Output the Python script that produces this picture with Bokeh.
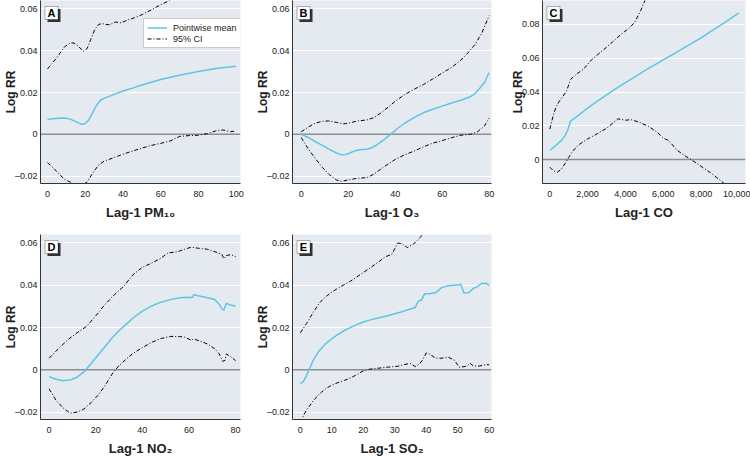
from bokeh.plotting import figure
from bokeh.layouts import column, row
from bokeh.models import Range1d, FixedTicker, Span, Label, BoxAnnotation
from bokeh.embed import file_html
from bokeh.resources import INLINE

# ---------------- data ----------------
# Panel A : Lag-1 PM10
A_mean_x = [0, 3, 6, 9, 12, 15, 18, 20, 22, 24, 26, 28, 30, 35, 40, 45, 50, 60, 70, 80, 90, 100]
A_mean = [0.0071, 0.0075, 0.0077, 0.0078, 0.0073, 0.0061, 0.0048, 0.0052, 0.0070, 0.0105, 0.0138, 0.0162, 0.0172, 0.0190, 0.0207, 0.0221, 0.0236, 0.0262, 0.0283, 0.0301, 0.0316, 0.0326]
A_up_x = [0, 3, 6, 9, 12, 14, 16, 19, 21, 23, 25, 27, 29, 31, 33, 36, 39, 42, 46, 50, 55, 60, 64, 68]
A_up = [0.0313, 0.0345, 0.0380, 0.0418, 0.0437, 0.0437, 0.0425, 0.0397, 0.0410, 0.0455, 0.0500, 0.0525, 0.0530, 0.0525, 0.0524, 0.0537, 0.0533, 0.0545, 0.0557, 0.0572, 0.0595, 0.0620, 0.0637, 0.0655]
A_lo_x = [0, 3, 6, 9, 12, 15, 18, 21, 24, 27, 30, 35, 40, 45, 50, 55, 60, 65, 70, 75, 80, 85, 89, 93, 97, 100]
A_lo = [-0.0135, -0.0160, -0.0188, -0.0215, -0.0228, -0.0240, -0.0245, -0.0228, -0.0185, -0.0148, -0.0128, -0.0112, -0.0095, -0.0080, -0.0066, -0.0053, -0.0043, -0.0032, -0.0010, -0.0006, -0.0004, 0.0004, 0.0016, 0.0021, 0.0013, 0.0016]

# Panel B : Lag-1 O3
B_mean_x = [0, 3, 6, 9, 12, 15, 17, 19, 21, 23, 25, 28, 30, 32, 35, 38, 41, 44, 48, 52, 56, 60, 64, 68, 72, 74, 76, 78, 80]
B_mean = [0.0, -0.0015, -0.0035, -0.0053, -0.0072, -0.0089, -0.0097, -0.0096, -0.0088, -0.0078, -0.0074, -0.0071, -0.0064, -0.0052, -0.0028, 0.0, 0.0028, 0.0053, 0.0080, 0.0103, 0.0120, 0.0135, 0.0150, 0.0163, 0.0180, 0.0195, 0.0220, 0.0248, 0.0296]
B_up_x = [0, 3, 6, 9, 12, 15, 18, 21, 24, 28, 31, 34, 37, 40, 44, 48, 52, 56, 60, 64, 68, 71, 74, 77, 80]
B_up = [0.0012, 0.0035, 0.0053, 0.0063, 0.0064, 0.0057, 0.0050, 0.0056, 0.0064, 0.0069, 0.0080, 0.0103, 0.0130, 0.0158, 0.0190, 0.0215, 0.0238, 0.0265, 0.0293, 0.0320, 0.0355, 0.0390, 0.0430, 0.0487, 0.0568]
B_lo_x = [0, 3, 6, 9, 12, 15, 17, 20, 24, 28, 31, 34, 37, 40, 44, 48, 52, 56, 60, 64, 68, 72, 75, 78, 80]
B_lo = [-0.0015, -0.0070, -0.0115, -0.0158, -0.0193, -0.0218, -0.0225, -0.0218, -0.0210, -0.0207, -0.0190, -0.0165, -0.0142, -0.0120, -0.0098, -0.0080, -0.0060, -0.0042, -0.0030, -0.0016, -0.0004, 0.0000, 0.0012, 0.0040, 0.0078]

# Panel C : Lag-1 CO
C_mean_x = [0, 200, 400, 600, 800, 950, 1100, 1500, 2000, 2500, 3000, 3500, 4000, 4500, 5000, 5500, 6000, 6500, 7000, 7500, 8000, 8500, 9000, 9500, 10000]
C_mean = [0.0055, 0.0072, 0.0092, 0.0112, 0.0140, 0.0175, 0.0228, 0.0260, 0.0305, 0.0345, 0.0383, 0.0420, 0.0455, 0.0490, 0.0525, 0.0558, 0.0590, 0.0622, 0.0655, 0.0688, 0.0720, 0.0757, 0.0793, 0.0830, 0.0868]
C_up_x = [0, 100, 200, 350, 500, 700, 900, 1100, 1400, 1800, 2200, 2600, 3000, 3400, 3800, 4200, 4500, 4800, 5100]
C_up = [0.0180, 0.0225, 0.0270, 0.0315, 0.0345, 0.0375, 0.0410, 0.0475, 0.0505, 0.0537, 0.0590, 0.0628, 0.0665, 0.0705, 0.0745, 0.0778, 0.0815, 0.0880, 0.0960]
C_lo_x = [0, 200, 400, 600, 800, 1000, 1200, 1500, 2000, 2500, 3000, 3600, 4000, 4300, 4700, 5200, 5700, 6000, 6300, 6700, 7100, 7500, 8000, 8500, 9000, 9500]
C_lo = [-0.0045, -0.0068, -0.0075, -0.0058, -0.0025, 0.0012, 0.0048, 0.0085, 0.0122, 0.0152, 0.0185, 0.0241, 0.0233, 0.0236, 0.0222, 0.0198, 0.0160, 0.0127, 0.0112, 0.0058, 0.0025, -0.0002, -0.0040, -0.0078, -0.0122, -0.0168]

# Panel D : Lag-1 NO2
D_mean_x = [0, 3, 6, 9, 12, 15, 18, 21, 24, 27, 30, 33, 36, 40, 44, 48, 52, 56, 60, 61.5, 62, 64, 67, 69, 71, 73, 74, 75, 76, 78, 80]
D_mean = [-0.0033, -0.0045, -0.0052, -0.0048, -0.0035, -0.0010, 0.0030, 0.0070, 0.0110, 0.0150, 0.0185, 0.0215, 0.0245, 0.0278, 0.0302, 0.0320, 0.0332, 0.0341, 0.0343, 0.0342, 0.0355, 0.0350, 0.0343, 0.0338, 0.0333, 0.0310, 0.0290, 0.0282, 0.0315, 0.0305, 0.0302]
D_up_x = [0, 4, 8, 12, 16, 20, 24, 28, 32, 36, 40, 44, 48, 51, 55, 58, 61, 64, 68, 72, 74, 75, 76, 78, 80]
D_up = [0.0055, 0.0100, 0.0142, 0.0175, 0.0205, 0.0255, 0.0310, 0.0355, 0.0395, 0.0450, 0.0485, 0.0505, 0.0528, 0.0553, 0.0558, 0.0570, 0.0580, 0.0575, 0.0570, 0.0555, 0.0548, 0.0525, 0.0540, 0.0545, 0.0535]
D_lo_x = [0, 3, 6, 9, 12, 15, 18, 21, 24, 27, 30, 33, 36, 40, 44, 48, 52, 56, 58, 61, 62, 65, 68, 71, 73, 74.5, 75.5, 76, 78, 80]
D_lo = [-0.0090, -0.0145, -0.0180, -0.0205, -0.0200, -0.0185, -0.0155, -0.0120, -0.0075, -0.0020, 0.0020, 0.0050, 0.0078, 0.0105, 0.0130, 0.0148, 0.0158, 0.0157, 0.0155, 0.0140, 0.0146, 0.0135, 0.0122, 0.0100, 0.0075, 0.0040, 0.0045, 0.0075, 0.0062, 0.0043]

# Panel E : Lag-1 SO2
E_mean_x = [0, 1, 2, 3, 4, 5, 6, 8, 10, 12, 14, 16, 18, 20, 22, 24, 26, 28, 30, 32, 34, 36.5, 37.5, 38.5, 39.5, 41, 43, 45, 47, 49, 51, 52, 53.5, 55, 56.5, 57.5, 59, 60]
E_mean = [-0.0065, -0.0055, -0.0025, 0.0008, 0.0042, 0.0068, 0.0090, 0.0123, 0.0147, 0.0168, 0.0186, 0.0201, 0.0214, 0.0226, 0.0235, 0.0243, 0.0250, 0.0257, 0.0265, 0.0273, 0.0283, 0.0295, 0.0325, 0.0330, 0.0360, 0.0360, 0.0365, 0.0390, 0.0398, 0.0400, 0.0403, 0.0363, 0.0365, 0.0385, 0.0395, 0.0408, 0.0410, 0.0398]
E_up_x = [0, 2, 4, 6, 8, 10, 13, 16, 19, 22, 25, 27, 29, 31, 32.5, 34, 36, 38, 40]
E_up = [0.0175, 0.0220, 0.0270, 0.0315, 0.0345, 0.0368, 0.0395, 0.0420, 0.0450, 0.0480, 0.0512, 0.0535, 0.0545, 0.0600, 0.0595, 0.0578, 0.0595, 0.0625, 0.0660]
E_lo_x = [0, 1, 2, 4, 6, 8, 10, 12, 14, 16, 18, 20, 22, 25, 28, 31, 33, 35, 36.5, 38, 39, 40, 41, 43, 45, 47, 49, 50.5, 52, 53, 54, 55, 57, 59, 60]
E_lo = [-0.0250, -0.0215, -0.0190, -0.0148, -0.0115, -0.0090, -0.0072, -0.0060, -0.0050, -0.0038, -0.0022, -0.0005, 0.0003, 0.0008, 0.0013, 0.0017, 0.0025, 0.0030, 0.0015, 0.0030, 0.0050, 0.0080, 0.0075, 0.0055, 0.0055, 0.0060, 0.0045, 0.0012, 0.0015, 0.0018, 0.0030, 0.0018, 0.0018, 0.0025, 0.0024]

# ticks and labels
Y_TICKS = [-0.02, 0, 0.02, 0.04, 0.06]
Y_LABELS = ["\u20130.02", "0", "0.02", "0.04", "0.06"]
C_Y_TICKS = [0, 0.02, 0.04, 0.06, 0.08]
C_Y_LABELS = ["0", "0.02", "0.04", "0.06", "0.08"]
A_X_TICKS = [0, 20, 40, 60, 80, 100]
A_X_LABELS = ["0", "20", "40", "60", "80", "100"]
B_X_TICKS = [0, 20, 40, 60, 80]
B_X_LABELS = ["0", "20", "40", "60", "80"]
C_X_TICKS = [0, 2000, 4000, 6000, 8000, 10000]
C_X_LABELS = ["0", "2,000", "4,000", "6,000", "8,000", "10,000"]
D_X_TICKS = [0, 20, 40, 60, 80]
D_X_LABELS = ["0", "20", "40", "60", "80"]
E_X_TICKS = [0, 10, 20, 30, 40, 50, 60]
E_X_LABELS = ["0", "10", "20", "30", "40", "50", "60"]

LETTERS = ["A", "B", "C", "D", "E"]
X_TITLES = ["Lag-1 PM\u2081\u2080", "Lag-1 O\u2083", "Lag-1 CO", "Lag-1 NO\u2082", "Lag-1 SO\u2082"]
Y_TITLE = "Log RR"
LEGEND_MEAN = "Pointwise mean"
LEGEND_CI = "95% CI"

# ---------------- style ----------------
FONT = "Liberation Sans"
BG = "#e5eaf0"
CYAN = "#5cc6e4"
TXT = "#222222"


def panel(letter, w, h, bl, br, bt, bb, xr, yr, xt, xl, yt, yl, xtitle,
          mx, my, ux, uy, lx, ly, legend=False):
    p = figure(width=w, height=h, x_range=Range1d(*xr), y_range=Range1d(*yr),
               output_backend="svg", toolbar_location=None, title=None,
               min_border_left=bl, min_border_right=br,
               min_border_top=bt, min_border_bottom=bb)
    p.background_fill_color = BG
    p.border_fill_color = "white"
    p.outline_line_color = None
    p.xgrid.visible = False
    p.ygrid.grid_line_color = "white"
    p.ygrid.grid_line_width = 1
    p.xaxis.ticker = FixedTicker(ticks=xt)
    p.yaxis.ticker = FixedTicker(ticks=yt)
    p.xaxis.major_label_overrides = dict(zip(xt, xl))
    p.yaxis.major_label_overrides = dict(zip(yt, yl))
    for ax in (p.xaxis, p.yaxis):
        ax.major_tick_line_color = None
        ax.minor_tick_line_color = None
        ax.major_tick_out = 0
        ax.major_tick_in = 0
        ax.minor_tick_out = 0
        ax.minor_tick_in = 0
        ax.axis_line_color = "#333333"
        ax.axis_line_width = 1
        ax.major_label_text_font = FONT
        ax.major_label_text_font_size = "9px"
        ax.major_label_text_color = TXT
        ax.axis_label_text_font = FONT
        ax.axis_label_text_font_style = "bold"
        ax.axis_label_text_color = TXT
    p.xaxis.axis_label = xtitle
    p.xaxis.axis_label_text_font_size = "13px"
    p.xaxis.major_label_standoff = 7
    p.xaxis.axis_label_standoff = 5
    p.yaxis.axis_label = Y_TITLE
    p.yaxis.axis_label_text_font_size = "12px"
    p.yaxis.major_label_standoff = 3
    p.yaxis.axis_label_standoff = -6

    p.add_layout(Span(location=0, dimension="width", line_color="#8e8e8e",
                      line_width=1.5, level="underlay"))

    if legend:
        p.line(mx, my, line_color=CYAN, line_width=1.5, legend_label=LEGEND_MEAN)
        p.line(ux, uy, line_color="black", line_width=1, line_dash="4 2 1 2",
               legend_label=LEGEND_CI)
    else:
        p.line(mx, my, line_color=CYAN, line_width=1.5)
        p.line(ux, uy, line_color="black", line_width=1, line_dash="4 2 1 2")
    p.line(lx, ly, line_color="black", line_width=1, line_dash="4 2 1 2")

    fw = w - bl - br
    fh = h - bt - bb
    top_off = 6
    # letter box with shadow
    p.add_layout(BoxAnnotation(left=7, right=20, top=fh - top_off - 2.5, bottom=fh - top_off - 15.5,
                               left_units="screen", right_units="screen",
                               top_units="screen", bottom_units="screen",
                               fill_color="#333333", fill_alpha=1, line_color=None))
    p.add_layout(BoxAnnotation(left=4.5, right=17.5, top=fh - top_off, bottom=fh - top_off - 13,
                               left_units="screen", right_units="screen",
                               top_units="screen", bottom_units="screen",
                               fill_color="white", fill_alpha=1, line_color="black",
                               line_width=1))
    p.add_layout(Label(x=11, y=fh - top_off - 6.5, x_units="screen", y_units="screen",
                       text=letter, text_align="center", text_baseline="middle",
                       text_font=FONT, text_font_style="bold", text_font_size="11px",
                       text_color="black"))

    if legend:
        lg = p.legend[0]
        lg.location = (fw - 99, fh - 48)
        lg.margin = 0
        lg.padding = 3
        lg.spacing = 0
        lg.glyph_width = 20
        lg.glyph_height = 11
        lg.label_height = 11
        lg.label_width = 66
        lg.label_standoff = 6
        lg.label_text_font = FONT
        lg.label_text_font_size = "9px"
        lg.label_text_color = TXT
        lg.border_line_color = "#999999"
        lg.border_line_width = 1
        lg.background_fill_color = "white"
        lg.background_fill_alpha = 1
    return p


YR = (-0.0235, 0.064)
pa = panel(LETTERS[0], 250, 230, 38, 10, 0, 47, (-3.7, 102.3), YR,
           A_X_TICKS, A_X_LABELS, Y_TICKS, Y_LABELS, X_TITLES[0],
           A_mean_x, A_mean, A_up_x, A_up, A_lo_x, A_lo, legend=True)
pb = panel(LETTERS[1], 250, 230, 42, 9, 0, 47, (-3.7, 81.0), YR,
           B_X_TICKS, B_X_LABELS, Y_TICKS, Y_LABELS, X_TITLES[1],
           B_mean_x, B_mean, B_up_x, B_up, B_lo_x, B_lo)
pc = panel(LETTERS[2], 250, 230, 42, 5, 0, 47, (-386, 10350), (-0.0142, 0.0942),
           C_X_TICKS, C_X_LABELS, C_Y_TICKS, C_Y_LABELS, X_TITLES[2],
           C_mean_x, C_mean, C_up_x, C_up, C_lo_x, C_lo)
pd_ = panel(LETTERS[3], 250, 228, 38, 10, 4, 39, (-3.7, 82.1), YR,
            D_X_TICKS, D_X_LABELS, Y_TICKS, Y_LABELS, X_TITLES[3],
            D_mean_x, D_mean, D_up_x, D_up, D_lo_x, D_lo)
pe = panel(LETTERS[4], 250, 228, 42, 9, 4, 39, (-2.5, 60.75), YR,
           E_X_TICKS, E_X_LABELS, Y_TICKS, Y_LABELS, X_TITLES[4],
           E_mean_x, E_mean, E_up_x, E_up, E_lo_x, E_lo)

layout = column(row(pa, pb, pc), row(pd_, pe))
open("out.html", "w").write(file_html(layout, INLINE))
